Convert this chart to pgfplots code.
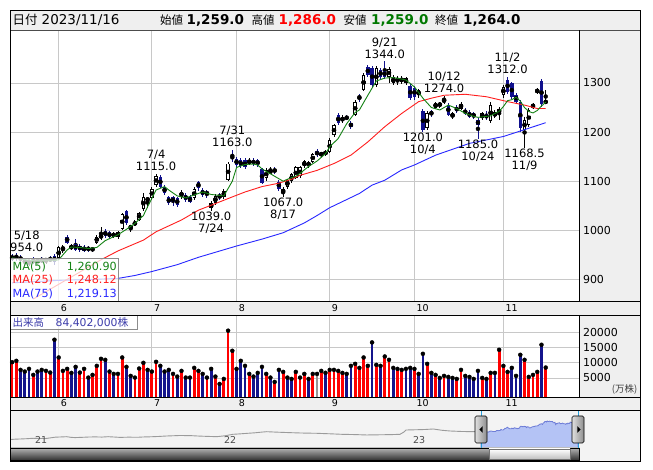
\documentclass[border=0pt]{standalone}
\usepackage{pgfplots}
\pgfplotsset{compat=1.18}
\usepackage{pgfplotstable}
\usepackage{fontspec}
\setmainfont{DejaVu Sans}
\newfontfamily\jp{Noto Sans CJK JP}

\definecolor{gridc}{RGB}{200,200,200}
\definecolor{panelbg}{RGB}{239,239,239}
\definecolor{navbg}{RGB}{243,243,243}
\definecolor{navy}{RGB}{16,16,140}
\definecolor{vblue}{RGB}{20,20,140}
\definecolor{vred}{RGB}{255,0,0}
\definecolor{vgrey}{RGB}{150,150,150}
\definecolor{ma5}{RGB}{20,130,20}
\definecolor{ma25}{RGB}{255,30,30}
\definecolor{ma75}{RGB}{40,40,255}
\definecolor{hgreen}{RGB}{0,120,0}
\definecolor{navfill}{RGB}{180,195,245}
\definecolor{navline}{RGB}{110,125,215}
\definecolor{navgrey}{RGB}{155,155,155}
\definecolor{volcol}{RGB}{60,60,170}
\definecolor{handlec}{RGB}{40,160,220}

% daily candles: i = trading day index (0 = 2023-06-01)
\pgfplotstableread{
i o h l c
-11 945 952 938 942
-10 950 954 938 941
-9 946 949 936 939
-8 938 944 930 934
-7 934 940 928 938
-6 938 945 932 936
-5 936 942 930 940
-4 940 946 934 937
-3 937 944 932 942
-2 942 948 935 938
-1 948 952 930 935
0 943 968 940 965
1 960 970 953 966
2 987 990 972 975
3 963 972 960 968
4 972 982 958 960
5 968 972 956 960
6 966 970 955 958
7 965 968 956 960
8 964 967 955 959
9 975 990 972 987
10 985 1006 980 990
11 999 1003 985 988
12 996 999 983 986
13 987 997 984 994
14 986 999 983 996
15 1002 1035 1000 1033
16 1039 1042 1010 1014
17 1005 1011 997 1008
18 1011 1020 1008 1017
19 1021 1038 1018 1036
20 1043 1076 1040 1067
21 1062 1068 1045 1064
22 1065 1088 1062 1085
23 1092 1115 1088 1111
24 1108 1112 1086 1089
25 1089 1092 1072 1075
26 1067 1070 1052 1055
27 1067 1070 1050 1057
28 1065 1068 1048 1052
29 1068 1082 1064 1079
30 1072 1076 1058 1062
31 1068 1071 1055 1058
32 1065 1088 1062 1085
33 1098 1101 1080 1087
34 1082 1086 1068 1072
35 1078 1082 1066 1074
36 1045 1060 1039 1055
37 1055 1073 1052 1070
38 1072 1076 1062 1066
39 1067 1084 1064 1081
40 1102 1140 1100 1136
41 1151 1163 1140 1146
42 1146 1150 1128 1133
43 1143 1147 1126 1130
44 1143 1148 1125 1128
45 1135 1147 1132 1144
46 1144 1148 1130 1134
47 1144 1146 1128 1132
48 1124 1127 1094 1096
49 1106 1126 1100 1123
50 1118 1129 1115 1121
51 1125 1128 1115 1119
52 1099 1102 1080 1085
53 1075 1088 1067 1085
54 1089 1105 1085 1102
55 1100 1117 1096 1114
56 1106 1131 1104 1128
57 1110 1131 1107 1128
58 1130 1143 1127 1141
59 1130 1142 1127 1139
60 1140 1158 1137 1155
61 1161 1165 1150 1153
62 1153 1160 1150 1157
63 1155 1163 1152 1160
64 1159 1187 1157 1184
65 1194 1217 1190 1214
66 1235 1238 1215 1218
67 1223 1234 1218 1230
68 1231 1234 1224 1228
69 1218 1222 1207 1211
70 1235 1265 1232 1262
71 1272 1277 1262 1270
72 1286 1320 1283 1316
73 1333 1337 1312 1316
74 1330 1334 1292 1296
75 1295 1334 1292 1330
76 1326 1330 1308 1313
77 1325 1344 1308 1313
78 1313 1332 1300 1328
79 1299 1316 1295 1313
80 1302 1314 1296 1311
81 1302 1314 1298 1311
82 1300 1313 1296 1310
83 1293 1297 1265 1269
84 1290 1294 1266 1272
85 1275 1288 1270 1285
86 1242 1246 1201 1204
87 1208 1242 1205 1238
88 1242 1246 1230 1236
89 1250 1262 1246 1259
90 1254 1262 1250 1258
91 1262 1274 1258 1266
92 1256 1259 1232 1235
93 1231 1241 1226 1238
94 1252 1255 1238 1242
95 1248 1262 1244 1258
96 1245 1249 1234 1238
97 1241 1244 1228 1231
98 1238 1241 1226 1231
99 1225 1228 1185 1214
100 1228 1241 1224 1238
101 1236 1242 1225 1228
102 1222 1262 1218 1256
103 1232 1245 1228 1240
104 1240 1252 1225 1246
105 1276 1296 1270 1292
106 1306 1312 1278 1282
107 1299 1302 1268 1272
108 1276 1280 1258 1262
109 1262 1266 1200 1208
110 1204 1230 1168.5 1225
111 1214 1249 1210 1245
112 1251 1260 1247 1255
113 1282 1290 1278 1285
114 1304 1308 1252 1257
115 1259 1286 1259 1264
}\ohlc

\pgfplotstableread{
i v
-11 944
-6 938
-1 938
0 940
1 950
2 960
3 966
5 965
7 963
9 965
11 979
13 987
14 991
16 1002
18 1014
20 1030
21 1048
22 1065
23 1082
25 1089
26 1082
28 1070
30 1066
32 1072
34 1078
36 1073
38 1071
39 1070
40 1085
41 1100
42 1128
44 1134
46 1135
47 1133
48 1125
49 1120
51 1110
53 1100
54 1104
56 1110
57 1116
59 1130
61 1141
63 1156
64 1170
66 1187
68 1217
70 1240
71 1245
73 1275
75 1304
77 1310
79 1311
81 1308
82 1306
84 1292
86 1269
88 1250
90 1245
92 1255
94 1248
96 1238
98 1232
99 1230
101 1232
102 1233
103 1238
104 1242
105 1252
106 1264
107 1266
108 1271
109 1263
110 1250
111 1242
112 1239
113 1244
114 1253
115 1260.9
}\maA

\pgfplotstableread{
i v
-6 860
-1 885
3 905
7 925
10 940
14 958
20 980
23 997
29 1021
33 1041
36 1051
41 1068
44 1078
48 1089
52 1096
55 1104
57 1112
61 1122
65 1136
69 1153
73 1180
77 1211
81 1238
85 1262
88 1269
91 1275
96 1277
101 1272
106 1262
110 1255
113 1248
115 1248.12
}\maB

\pgfplotstableread{
i v
-11 893
0 898
8 900
14 902
18 908
22 916
28 930
33 945
42 968
48 982
53 995
58 1015
61 1030
64 1046
71 1075
74 1092
77 1102
81 1123
84 1133
89 1153
97 1177
105 1191
110 1205
115 1219.13
}\maC

% volume in 10,000 shares; col: 0 up (red), 1 down (blue), 2 unchanged (grey)
\pgfplotstableread{
i v col
-11 10222 0
-10 10667 0
-9 7666 1
-8 7111 1
-7 8000 1
-6 6000 0
-5 7111 1
-4 7666 1
-3 7333 0
-2 6778 0
-1 17667 1
0 11778 0
1 7333 0
2 8000 0
3 6666 1
4 8667 1
5 6778 0
6 8000 0
7 5111 1
8 6000 0
9 9000 0
10 11333 0
11 11000 1
12 7111 0
13 6333 1
14 6333 0
15 11778 0
16 8667 1
17 5667 1
18 5111 0
19 8111 0
20 10000 0
21 7666 1
22 7111 0
23 10333 0
24 9000 1
25 7111 1
26 7666 1
27 6333 0
28 5444 1
29 7333 0
30 5111 1
31 5111 1
32 8333 0
33 7333 0
34 6333 1
35 5111 0
36 8000 1
37 5444 0
38 3000 1
39 4667 0
40 20667 0
41 14000 0
42 8000 1
43 10667 1
44 9000 1
45 6333 0
46 5444 1
47 6666 1
48 8667 1
49 6333 0
50 5111 1
51 3667 0
52 7666 1
53 7000 0
54 5111 1
55 4667 1
56 7000 0
57 5111 0
58 6333 0
59 4667 1
60 6333 0
61 6333 2
62 7333 0
63 6700 1
64 7666 0
65 7666 0
66 7333 0
67 6666 0
68 6333 1
69 9000 1
70 9667 0
71 8333 0
72 11778 0
73 9000 0
74 16778 1
75 9333 0
76 9000 1
77 12111 0
78 11000 0
79 8333 1
80 8000 0
81 7666 0
82 8000 1
83 8333 1
84 8000 0
85 6333 1
86 13000 1
87 9667 0
88 6666 1
89 6000 0
90 5000 1
91 5667 0
92 5333 1
93 5000 1
94 4667 0
95 7666 0
96 5667 1
97 5333 1
98 4667 1
99 7333 1
100 5000 0
101 4667 1
102 6666 0
103 6666 1
104 14333 0
105 9000 0
106 7000 0
107 8333 1
108 5667 1
109 12667 1
110 11000 0
111 5333 0
112 6000 0
113 7000 0
114 16000 1
115 8440 0
}\vol

% long-term overview (year, price)
\pgfplotstableread{
t p
2020.887 672
2020.912 684
2020.937 690
2020.970 700
2021.005 715
2021.040 709
2021.069 704
2021.095 728
2021.122 754
2021.150 762
2021.184 772
2021.206 748
2021.228 740
2021.270 751
2021.300 760
2021.333 765
2021.370 758
2021.402 772
2021.435 760
2021.466 747
2021.510 755
2021.558 751
2021.590 762
2021.624 768
2021.670 780
2021.713 797
2021.750 806
2021.783 815
2021.845 808
2021.880 795
2021.915 786
2021.977 772
2022.021 804
2022.063 857
2022.095 870
2022.127 886
2022.180 911
2022.215 935
2022.242 950
2022.280 938
2022.312 929
2022.374 914
2022.410 906
2022.444 900
2022.506 893
2022.540 884
2022.577 875
2022.639 857
2022.709 847
2022.771 833
2022.841 840
2022.905 847
2022.947 857
2022.968 939
2022.979 1010
2023.026 1018
2023.079 1028
2023.123 1046
2023.169 1000
2023.212 975
2023.275 957
2023.344 950
2023.376 943
}\navt

\tikzset{lab/.style={font=\fontsize{11.5}{12}\selectfont, align=center, inner sep=0pt}}

\begin{document}
\begin{tikzpicture}[x=1pt,y=1pt]
\useasboundingbox (0,0) rectangle (653,470);
\fill[white] (0,0) rectangle (653,470);

% backgrounds (pixel coordinates, y downwards)
\begin{scope}[shift={(0,470)},yscale=-1]
\fill[panelbg] (10.5,10) rectangle (640,30.5);
\fill[panelbg] (579.3,30.5) rectangle (640,301.7);
\fill[panelbg] (10.5,301.7) rectangle (640,315.7);
\fill[panelbg] (579.3,315.7) rectangle (640,397);
\fill[panelbg] (10.5,397) rectangle (640,410.5);
\fill[navbg] (10.5,410.5) rectangle (640,461.5);
\end{scope}

% ---------------- price panel ----------------
\begin{axis}[at={(10.7pt,168.3pt)}, anchor=south west, scale only axis,
  width=568.6pt, height=271.2pt,
  xmin=-11.33, xmax=122.93, ymin=854.6, ymax=1406.9,
  axis line style={draw=none},
  xtick={0,22,42,64,84,105}, xticklabels={6,7,8,9,10,11},
  ytick={900,1000,1100,1200,1300}, yticklabels={900,1000,1100,1200,1300},
  yticklabel pos=right, scaled y ticks=false,
  major tick length=0pt, tick style={draw=none},
  grid=major, grid style={draw=gridc, line width=0.8pt},
  xticklabel style={font=\fontsize{9.5}{10}\selectfont, anchor=north west, inner sep=0pt, xshift=2pt, yshift=-2.6pt},
  yticklabel style={font=\fontsize{11}{12}\selectfont, anchor=west, inner sep=0pt, xshift=3.5pt},
  clip mode=individual]
% wicks
\addplot[only marks, mark=none, restrict expr to domain={\thisrow{c}-\thisrow{o}}{-1000:-0.01},
  error bars/.cd, y dir=both, y explicit, error mark=none,
  error bar style={draw=navy, line width=0.9pt}]
  table[x=i, y expr={(\thisrow{h}+\thisrow{l})/2}, y error expr={(\thisrow{h}-\thisrow{l})/2}] {\ohlc};
\addplot[only marks, mark=none, restrict expr to domain={\thisrow{c}-\thisrow{o}}{0:1000},
  error bars/.cd, y dir=both, y explicit, error mark=none,
  error bar style={draw=black, line width=0.9pt}]
  table[x=i, y expr={(\thisrow{h}+\thisrow{l})/2}, y error expr={(\thisrow{h}-\thisrow{l})/2}] {\ohlc};
% bodies
\addplot[only marks, mark=none, restrict expr to domain={\thisrow{c}-\thisrow{o}}{-1000:-0.01},
  error bars/.cd, y dir=both, y explicit, error mark=none,
  error bar style={draw=navy, line width=3.4pt}]
  table[x=i, y expr={(\thisrow{o}+\thisrow{c})/2}, y error expr={max(abs(\thisrow{c}-\thisrow{o})/2,1)}] {\ohlc};
\addplot[only marks, mark=none, restrict expr to domain={\thisrow{c}-\thisrow{o}}{0:1000},
  error bars/.cd, y dir=both, y explicit, error mark=none,
  error bar style={draw=black, line width=3.4pt}]
  table[x=i, y expr={(\thisrow{o}+\thisrow{c})/2}, y error expr={max(abs(\thisrow{c}-\thisrow{o})/2,1)}] {\ohlc};
\addplot[only marks, mark=none, restrict expr to domain={\thisrow{c}-\thisrow{o}}{0:1000},
  error bars/.cd, y dir=both, y explicit, error mark=none,
  error bar style={draw=white, line width=1.5pt}]
  table[x=i, y expr={(\thisrow{o}+\thisrow{c})/2}, y error expr={max(abs(\thisrow{c}-\thisrow{o})/2-2,0)}] {\ohlc};
% moving averages
\addplot[ma75, line width=0.9pt] table[x=i, y=v] {\maC};
\addplot[ma25, line width=0.9pt] table[x=i, y=v] {\maB};
\addplot[ma5, line width=0.9pt] table[x=i, y=v] {\maA};
% high / low annotations
\node[lab, anchor=south, yshift=1pt] at (axis cs:-7.56,954) {5/18\\954.0};
\node[lab, anchor=south, yshift=3pt] at (axis cs:23,1115) {7/4\\1115.0};
\node[lab, anchor=south, yshift=3pt] at (axis cs:41,1163) {7/31\\1163.0};
\node[lab, anchor=south, yshift=3pt] at (axis cs:77,1344) {9/21\\1344.0};
\node[lab, anchor=south, yshift=3pt] at (axis cs:91,1274) {10/12\\1274.0};
\node[lab, anchor=south, yshift=3pt] at (axis cs:106,1312) {11/2\\1312.0};
\node[lab, anchor=north, yshift=-0.8pt] at (axis cs:36,1039) {1039.0\\7/24};
\node[lab, anchor=north, yshift=-0.8pt] at (axis cs:53,1067) {1067.0\\8/17};
\node[lab, anchor=north, yshift=-0.8pt] at (axis cs:86,1201) {1201.0\\10/4};
\node[lab, anchor=north, yshift=-0.8pt] at (axis cs:99,1185) {1185.0\\10/24};
\node[lab, anchor=north, yshift=-0.8pt] at (axis cs:110,1168.5) {1168.5\\11/9};
\end{axis}

% ---------------- volume panel ----------------
\begin{axis}[at={(10.7pt,73pt)}, anchor=south west, scale only axis,
  width=568.6pt, height=81.3pt,
  xmin=-11.33, xmax=122.93, ymin=-1327, ymax=25638,
  axis line style={draw=none},
  xtick={0,22,42,64,84,105}, xticklabels={6,7,8,9,10,11},
  ytick={5000,10000,15000,20000}, yticklabels={5000,10000,15000,20000},
  yticklabel pos=right, scaled y ticks=false,
  major tick length=0pt, tick style={draw=none},
  grid=major, grid style={draw=gridc, line width=0.8pt},
  xticklabel style={font=\fontsize{9.5}{10}\selectfont, anchor=north west, inner sep=0pt, xshift=2pt, yshift=-2.6pt},
  yticklabel style={font=\fontsize{11}{12}\selectfont, anchor=west, inner sep=0pt, xshift=3.5pt},
  clip mode=individual]
\addplot[only marks, mark=none, restrict expr to domain={\thisrow{col}}{-0.5:0.5},
  error bars/.cd, y dir=minus, y explicit, error mark=none,
  error bar style={draw=vred, line width=2.8pt}]
  table[x=i, y=v, y error minus expr={\thisrow{v}+1327}] {\vol};
\addplot[only marks, mark=none, restrict expr to domain={\thisrow{col}}{0.5:1.5},
  error bars/.cd, y dir=minus, y explicit, error mark=none,
  error bar style={draw=vblue, line width=2.8pt}]
  table[x=i, y=v, y error minus expr={\thisrow{v}+1327}] {\vol};
\addplot[only marks, mark=none, restrict expr to domain={\thisrow{col}}{1.5:2.5},
  error bars/.cd, y dir=minus, y explicit, error mark=none,
  error bar style={draw=vgrey, line width=2.8pt}]
  table[x=i, y=v, y error minus expr={\thisrow{v}+1327}] {\vol};
\end{axis}

% ---------------- navigator ----------------
\begin{axis}[at={(10.7pt,22.5pt)}, anchor=south west, scale only axis,
  width=568.6pt, height=37pt,
  xmin=2020.887, xmax=2023.896, ymin=387, ymax=1705,
  axis line style={draw=none}, ticks=none, clip mode=individual]
\addplot[navgrey, line width=0.9pt] table[x=t, y=p] {\navt};
\addplot[fill=navfill, draw=navline, line width=0.8pt]
  table[x expr={2023.376+(\thisrow{i}+11)*0.004071}, y=c] {\ohlc} \closedcycle;
\node[anchor=west, inner sep=0pt, text=black!70, font=\fontsize{9.5}{10}\selectfont] at (axis cs:2021.015,655) {21};
\node[anchor=west, inner sep=0pt, text=black!70, font=\fontsize{9.5}{10}\selectfont] at (axis cs:2022.015,655) {22};
\node[anchor=west, inner sep=0pt, text=black!70, font=\fontsize{9.5}{10}\selectfont] at (axis cs:2023.015,655) {23};
\end{axis}

% scrollbar and handles
\shade[top color=black!30, bottom color=black!80] (10.7,10) rectangle (579.3,22);
\draw[black, line width=0.6pt] (10.7,10) rectangle (579.3,22);
\shade[top color=white, bottom color=black!25] (489,11) rectangle (570,21);
\draw[black!55, line width=0.5pt] (489,11) rectangle (570,21);
\draw[handlec, line width=0.6pt] (481,59.5) -- (481,22);
\draw[handlec, line width=0.6pt] (578,59.5) -- (578,22);
\shade[left color=black!12, right color=black!45, rounded corners=1.5pt] (475,27) rectangle (487,54);
\draw[black, line width=0.6pt, rounded corners=1.5pt] (475,27) rectangle (487,54);
\fill[black] (479.3,40.5) -- (482.7,43.8) -- (482.7,37.2) -- cycle;
\shade[left color=black!12, right color=black!45, rounded corners=1.5pt] (572,27) rectangle (584,54);
\draw[black, line width=0.6pt, rounded corners=1.5pt] (572,27) rectangle (584,54);
\fill[black] (580.7,40.5) -- (577.3,43.8) -- (577.3,37.2) -- cycle;

% overlays (pixel coordinates, y downwards)
\begin{scope}[shift={(0,470)},yscale=-1]
% MA legend
\filldraw[fill=white, fill opacity=0.75, draw=black!45, line width=0.8pt] (10.7,258) rectangle (118,301.7);
\node[anchor=west, inner sep=0pt, text=ma5, font=\fontsize{11.2}{12}\selectfont] at (12.5,266.7) {MA(5)};
\node[anchor=east, inner sep=0pt, text=ma5, font=\fontsize{11.2}{12}\selectfont] at (117,266.7) {1,260.90};
\node[anchor=west, inner sep=0pt, text=ma25, font=\fontsize{11.2}{12}\selectfont] at (12.5,280.2) {MA(25)};
\node[anchor=east, inner sep=0pt, text=ma25, font=\fontsize{11.2}{12}\selectfont] at (117,280.2) {1,248.12};
\node[anchor=west, inner sep=0pt, text=ma75, font=\fontsize{11.2}{12}\selectfont] at (12.5,293.7) {MA(75)};
\node[anchor=east, inner sep=0pt, text=ma75, font=\fontsize{11.2}{12}\selectfont] at (117,293.7) {1,219.13};
% volume label
\filldraw[fill=white, fill opacity=0.75, draw=black!45, line width=0.8pt] (10.7,315.7) rectangle (137,329.5);
\node[anchor=base west, inner sep=0pt, text=volcol, font=\jp\fontsize{10.5}{11}\selectfont] at (12.5,326.6) {出来高};
\node[anchor=base west, inner sep=0pt, text=volcol, font=\fontsize{10.8}{11}\selectfont] at (55.5,326.6) {84,402,000{\jp 株}};
\node[anchor=east, inner sep=0pt, text=black!75, font=\jp\fontsize{9.5}{10}\selectfont] at (637.5,389.5) {(万株)};
% header
\node[anchor=base west, inner sep=0pt, font=\jp\fontsize{12.5}{13}\selectfont] at (12.5,25) {日付};
\node[anchor=base west, inner sep=0pt, font=\fontsize{13.5}{14}\selectfont] at (41.5,25) {2023/11/16};
\node[anchor=base west, inner sep=0pt, font=\jp\fontsize{11.5}{12}\selectfont] at (160,25) {始値};
\node[anchor=base west, inner sep=0pt, font=\bfseries\fontsize{13.5}{14}\selectfont] at (186.5,25) {1,259.0};
\node[anchor=base west, inner sep=0pt, font=\jp\fontsize{11.5}{12}\selectfont] at (251.5,25) {高値};
\node[anchor=base west, inner sep=0pt, text=vred, font=\bfseries\fontsize{13.5}{14}\selectfont] at (278.5,25) {1,286.0};
\node[anchor=base west, inner sep=0pt, font=\jp\fontsize{11.5}{12}\selectfont] at (343.5,25) {安値};
\node[anchor=base west, inner sep=0pt, text=hgreen, font=\bfseries\fontsize{13.5}{14}\selectfont] at (371,25) {1,259.0};
\node[anchor=base west, inner sep=0pt, font=\jp\fontsize{11.5}{12}\selectfont] at (435,25) {終値};
\node[anchor=base west, inner sep=0pt, font=\bfseries\fontsize{13.5}{14}\selectfont] at (463,25) {1,264.0};
% frames
\draw[black, line width=0.8pt] (10.5,10) rectangle (640,461.5);
\draw[black!70, line width=0.8pt] (10.5,30.5) -- (640,30.5);
\draw[black, line width=0.8pt] (10.7,30.5) -- (10.7,301.7);
\draw[black, line width=0.8pt] (10.5,301.7) -- (640,301.7);
\draw[black, line width=0.8pt] (579.3,30.5) -- (579.3,301.7);
\draw[black, line width=0.8pt] (10.5,315.7) -- (640,315.7);
\draw[black, line width=0.8pt] (10.5,397) -- (640,397);
\draw[black, line width=0.8pt] (579.3,315.7) -- (579.3,397);
\draw[black, line width=0.8pt] (10.5,410.5) -- (640,410.5);
\end{scope}
\end{tikzpicture}
\end{document}
